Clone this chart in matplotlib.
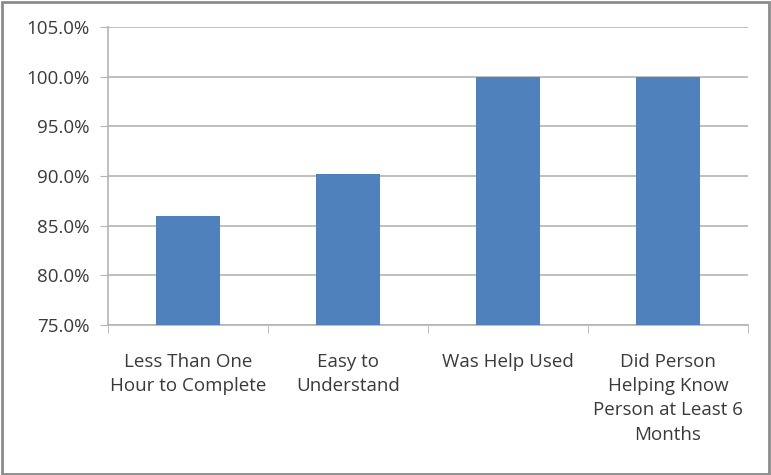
import matplotlib.pyplot as plt
from matplotlib.ticker import FuncFormatter, FixedLocator
import matplotlib.patches as mpatches

categories = ["Less Than One\nHour to Complete", "Easy to\nUnderstand",
              "Was Help Used", "Did Person\nHelping Know\nPerson at Least 6\nMonths"]
values = [86.0, 90.2, 100.0, 100.0]
yticks = [75, 80, 85, 90, 95, 100, 105]

plt.rcParams['font.family'] = ['Open Sans', 'DejaVu Sans']
text_color = '#3a3a3a'
grid_color = '#b4b4b4'

fig = plt.figure(figsize=(7.71, 4.75), dpi=100)
ax = fig.add_axes([108 / 771, 1 - 325 / 475, 640 / 771, 298 / 475])

x = range(len(categories))
ax.bar(x, values, width=0.4, color='#4f81bd', bottom=0, zorder=3)

ax.set_ylim(75, 105)
ax.set_xlim(-0.5, len(categories) - 0.5)
ax.yaxis.set_major_locator(FixedLocator(yticks))
ax.yaxis.set_major_formatter(FuncFormatter(lambda v, p: f"{v:.1f}%"))
ax.grid(axis='y', color=grid_color, linewidth=1.2, zorder=0)

for s in ['top', 'right']:
    ax.spines[s].set_visible(False)
ax.spines['left'].set_color(grid_color)
ax.spines['bottom'].set_color(grid_color)
ax.spines['left'].set_linewidth(1.2)
ax.spines['bottom'].set_linewidth(1.2)

ax.tick_params(axis='y', length=6, color=grid_color, labelsize=13.5,
               labelcolor=text_color, pad=7)
# category labels at bar centres, tick marks at the category boundaries
ax.set_xticks(list(x))
ax.set_xticklabels(categories, fontsize=13.5, color=text_color, linespacing=1.45)
ax.tick_params(axis='x', length=0, pad=20)
ax.set_xticks([i - 0.5 for i in range(len(categories) + 1)], minor=True)
ax.tick_params(axis='x', which='minor', length=6, color=grid_color)

# outer frame around the whole chart
fig.patches.append(mpatches.Rectangle((0.002, 0.003), 0.995, 0.993,
                                      transform=fig.transFigure, fill=False,
                                      edgecolor='#8c8c8c', linewidth=2))

fig.savefig('out.png', dpi=100)
